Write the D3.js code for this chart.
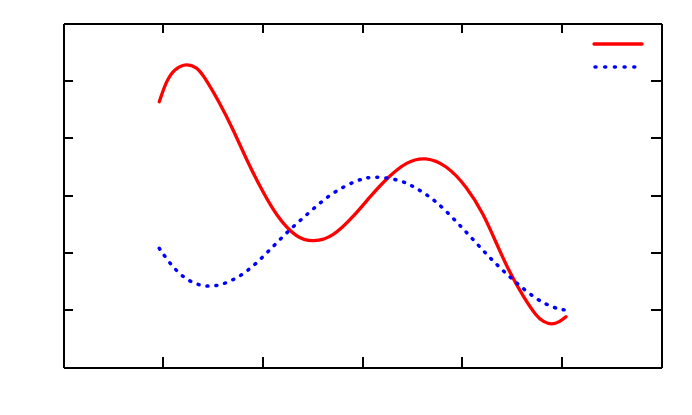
<!doctype html>
<html>
<head>
    <script src="https://d3js.org/d3.v7.min.js"></script>
    <style>
        body { margin: 0; background: #fff; }
        .axis path, .axis line { stroke: #000; stroke-width: 2; shape-rendering: crispEdges; }
    </style>
</head>
<body>
    <svg width="692" height="415"></svg>
    <script>
        // red (solid) series
        var redX = [0.966, 1.040, 1.124, 1.241, 1.340, 1.408, 1.575, 1.709, 1.843, 1.977, 2.144, 2.345, 2.511, 2.712, 2.913,
                    3.080, 3.264, 3.448, 3.632, 3.850, 4.050, 4.217, 4.351, 4.485, 4.618, 4.753, 4.819, 4.903, 4.987, 5.047];
        var redY = [4.627, 5.006, 5.210, 5.297, 5.227, 5.093, 4.599, 4.134, 3.610, 3.145, 2.622, 2.245, 2.175, 2.273, 2.622,
                    2.970, 3.319, 3.581, 3.668, 3.523, 3.145, 2.681, 2.145, 1.634, 1.226, 0.877, 0.790, 0.733, 0.790, 0.877];
        // blue (dotted) series
        var blueX = [0.966, 1.023, 1.141, 1.291, 1.475, 1.659, 1.843, 2.044, 2.244, 2.461, 2.679, 2.930,
                     3.113, 3.398, 3.565, 3.732, 3.933, 4.134, 4.334, 4.535, 4.753, 4.936, 5.037];
        var blueY = [2.070, 1.924, 1.662, 1.460, 1.383, 1.470, 1.652, 1.983, 2.349, 2.681, 3.017, 3.249,
                     3.337, 3.262, 3.099, 2.913, 2.564, 2.186, 1.809, 1.488, 1.169, 1.024, 0.994];
        var xTicks = [1, 2, 3, 4, 5];
        var yTicks = [1, 2, 3, 4, 5];

        var svg = d3.select("svg"),
            mLeft = 63, mRight = 661, mTop = 23, mBottom = 367;

        var x = d3.scaleLinear().domain([0, 6]).range([mLeft, mRight]);
        var y = d3.scaleLinear().domain([0, 6]).range([mBottom, mTop]);

        // frame + inward ticks on all four sides
        svg.append("g").attr("class", "axis")
            .attr("transform", "translate(0," + mBottom + ")")
            .call(d3.axisBottom(x).tickValues(xTicks).tickSize(-10).tickSizeOuter(0).tickFormat(""));
        svg.append("g").attr("class", "axis")
            .attr("transform", "translate(0," + mTop + ")")
            .call(d3.axisTop(x).tickValues(xTicks).tickSize(-10).tickSizeOuter(0).tickFormat(""));
        svg.append("g").attr("class", "axis")
            .attr("transform", "translate(" + mLeft + ",0)")
            .call(d3.axisLeft(y).tickValues(yTicks).tickSize(-10).tickSizeOuter(0).tickFormat(""));
        svg.append("g").attr("class", "axis")
            .attr("transform", "translate(" + mRight + ",0)")
            .call(d3.axisRight(y).tickValues(yTicks).tickSize(-10).tickSizeOuter(0).tickFormat(""));
        svg.selectAll(".axis line").attr("stroke-width", 1.5);

        // b-spline smooths out small reading errors between samples
        var line = d3.line()
            .x(d => x(d[0]))
            .y(d => y(d[1]))
            .curve(d3.curveBasis);

        svg.append("path")
            .datum(redX.map((v, i) => [v, redY[i]]))
            .attr("fill", "none")
            .attr("stroke", "#ff0000")
            .attr("stroke-width", 3.3)
            .attr("stroke-linecap", "round")
            .attr("d", line);

        svg.append("path")
            .datum(blueX.map((v, i) => [v, blueY[i]]))
            .attr("fill", "none")
            .attr("stroke", "#0000ff")
            .attr("stroke-width", 3.5)
            .attr("stroke-linecap", "round")
            .attr("stroke-dasharray", "1,8")
            .attr("d", line);

        // legend (no titles)
        svg.append("line")
            .attr("x1", 594).attr("x2", 642).attr("y1", 44).attr("y2", 44)
            .attr("stroke", "#ff0000").attr("stroke-width", 3.3).attr("stroke-linecap", "round");
        svg.append("line")
            .attr("x1", 595).attr("x2", 638).attr("y1", 67).attr("y2", 67)
            .attr("stroke", "#0000ff").attr("stroke-width", 3.5).attr("stroke-linecap", "round")
            .attr("stroke-dasharray", "1,8.7");
    </script>
</body>
</html>
